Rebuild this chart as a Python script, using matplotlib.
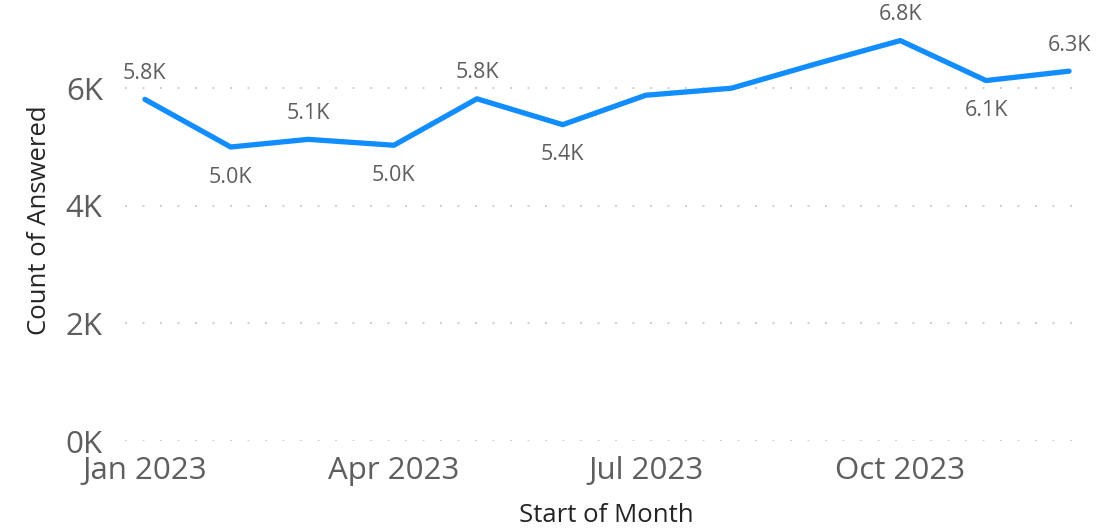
import pandas as pd
import matplotlib.pyplot as plt
import matplotlib.dates as mdates
from matplotlib.ticker import FuncFormatter

plt.rcParams['font.family'] = ['Open Sans', 'DejaVu Sans']

months = pd.date_range('2023-01-01', periods=12, freq='MS')
answered = [5810, 5000, 5130, 5030, 5820, 5380, 5880, 6000, 6420, 6810, 6130, 6290]
# which points get a value label, and whether it sits above (1) or below (-1)
label_side = [1, -1, 1, -1, 1, -1, 0, 0, 0, 1, -1, 1]

line_color = '#118DFF'
text_gray = '#605E5C'
title_color = '#252423'

fig = plt.figure(figsize=(11.18, 5.32), dpi=100)
ax = fig.add_axes([0.1118, 0.171, 0.8605, 0.829])

ax.plot(months, answered, color=line_color, linewidth=3.8,
        solid_capstyle='round', solid_joinstyle='round', zorder=3)

for d, v, side in zip(months, answered, label_side):
    if side == 0:
        continue
    offset = 26 if side > 0 else -30
    ax.annotate(f'{v / 1000:.1f}K', (d, v), xytext=(0, offset),
                textcoords='offset pixels', ha='center', va='center',
                fontsize=15.5, color=text_gray)

ax.set_ylim(0, 7500)
ax.set_yticks([0, 2000, 4000, 6000])
ax.yaxis.set_major_formatter(FuncFormatter(lambda v, p: f'{int(v / 1000)}K'))
ax.set_xlim(months[0] - pd.Timedelta(days=7.2), months[-1] + pd.Timedelta(days=6.5))
ax.set_xticks(pd.to_datetime(['2023-01-01', '2023-04-01', '2023-07-01', '2023-10-01']))
ax.xaxis.set_major_formatter(mdates.DateFormatter('%b %Y'))

ax.grid(axis='y', color='#D0CECC', linestyle=(0, (1, 8)), linewidth=1.4)
ax.set_axisbelow(True)
for s in ax.spines.values():
    s.set_visible(False)
ax.tick_params(axis='both', length=0, labelsize=22.5, labelcolor=text_gray)
ax.tick_params(axis='y', pad=16)
ax.tick_params(axis='x', pad=11)

ax.set_ylabel('Count of Answered', fontsize=18.5, color=title_color, labelpad=10)
ax.set_xlabel('Start of Month', fontsize=18.5, color=title_color, labelpad=12)

fig.savefig('out.png', dpi=100)
